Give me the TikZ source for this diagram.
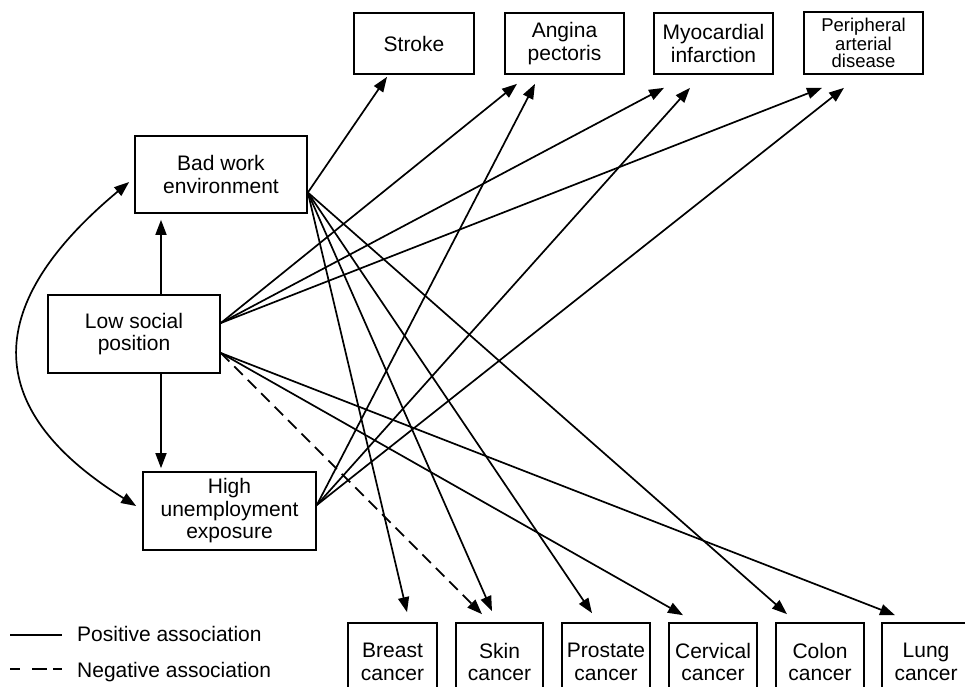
\documentclass[tikz,border=0pt]{standalone}
\usepackage{fontspec}
\setmainfont{Liberation Sans}
\usetikzlibrary{arrows.meta,calc}
\begin{document}
\begin{tikzpicture}[x=1pt,y=-1pt,
  box/.style={draw, line width=1.7pt, rectangle, inner sep=0pt, align=center,
              font=\fontsize{21}{22.5}\selectfont},
  topbox/.style={box, minimum width=119pt, minimum height=61pt},
  leftbox/.style={box, minimum width=172pt, minimum height=77pt},
  botbox/.style={box, minimum width=88pt, minimum height=78pt},
  tip/.tip={Triangle[length=15pt,width=11pt]},
  conn/.style={line width=1.7pt, -tip},
  neg/.style={conn, dash pattern=on 12pt off 7pt},
  legtext/.style={anchor=base west, inner sep=0pt, font=\fontsize{21}{22.5}\selectfont}]
\useasboundingbox (0,0) rectangle (965,686);
\clip (0,0) rectangle (965,686);
% top boxes
\node[topbox, minimum width=120pt] (stroke) at (414,43.5) {Stroke};
\node[topbox] (angina) at (564.5,43.5) {Angina\\pectoris};
\node[topbox] (myo) at (713.5,43.5) {Myocardial\\infarction};
\node[topbox, minimum height=62pt, font=\fontsize{18.5}{17}\selectfont] (peri) at (863.5,43) {Peripheral\\arterial\\disease};
% left boxes
\node[leftbox] (bad) at (221,174.5) {Bad work\\environment};
\node[leftbox, minimum height=78pt] (low) at (134,334) {Low social\\position};
\node[leftbox, minimum width=173pt, minimum height=78pt] (hu) at (229.5,511) {High\\unemployment\\exposure};
% bottom boxes
\node[botbox, minimum width=89pt] (breast) at (392.5,662) {Breast\\cancer};
\node[botbox, minimum width=87pt] (skin) at (499.5,662) {Skin\\cancer};
\node[botbox] (prostate) at (606,662) {Prostate\\cancer};
\node[botbox] (cervical) at (713,662) {Cervical\\cancer};
\node[botbox] (colon) at (820,662) {Colon\\cancer};
\node[botbox] (lung) at (926,662) {Lung\\cancer};
% low social -> bad work / high unemployment
\draw[conn] ($(low.north)+(27,0)$) -- ($(bad.south)+(-60,6)$);
\draw[conn] ($(low.south)+(27,0)$) -- ($(hu.north)+(-68.5,-3)$);
% curved double arrow
\draw[line width=1.7pt, tip-tip]
  ($(bad.west)+(-5,7.5)$) .. controls +(-144,120) and +(-159,-99) .. ($(hu.west)+(-6,-5)$);
% bad work environment
\draw[conn] ($(bad.east)+(0,18)$) -- ($(stroke.south)+(-27,2)$);
\draw[conn] ($(bad.east)+(0,18)$) -- ($(breast.north)+(14.5,-10)$);
\draw[conn] ($(bad.east)+(0,18)$) -- ($(skin.north)+(-7.5,-11)$);
\draw[conn] ($(bad.east)+(0,18)$) -- ($(prostate.north)+(-14,-9)$);
\draw[conn] ($(bad.east)+(0,18)$) -- ($(colon.north)+(-33,-8)$);
% low social position
\draw[conn] ($(low.east)+(0,-11)$) -- ($(angina.south)+(-47.5,9)$);
\draw[conn] ($(low.east)+(0,-11)$) -- ($(myo.south)+(-49.5,13)$);
\draw[conn] ($(low.east)+(0,-11)$) -- ($(peri.south)+(-41.5,13)$);
\draw[neg] ($(low.east)+(0,19)$) -- ($(skin.north)+(-17.5,-8)$);
\draw[conn] ($(low.east)+(0,19)$) -- ($(cervical.north)+(-30,-7)$);
\draw[conn] ($(low.east)+(0,19)$) -- ($(lung.north)+(-31,-7)$);
% high unemployment exposure
\draw[conn] ($(hu.east)+(0,-6)$) -- ($(angina.south)+(-29.5,9)$);
\draw[conn] ($(hu.east)+(0,-6)$) -- ($(myo.south)+(-23.5,13)$);
\draw[conn] ($(hu.east)+(0,-6)$) -- ($(peri.south)+(-19.5,13)$);
% legend
\coordinate (p1) at (10,635);
\coordinate (p2) at (62,635);
\coordinate (n1) at (10,669);
\coordinate (n2) at (62,669);
\draw[line width=1.7pt] (p1) -- (p2);
\draw[line width=1.7pt, dash pattern=on 10pt off 12pt on 15pt off 6pt on 9pt off 50pt] (n1) -- (n2);
\node[legtext] (postext) at (77,641) {Positive association};
\node[legtext] (negtext) at (77,677) {Negative association};
\end{tikzpicture}
\end{document}
